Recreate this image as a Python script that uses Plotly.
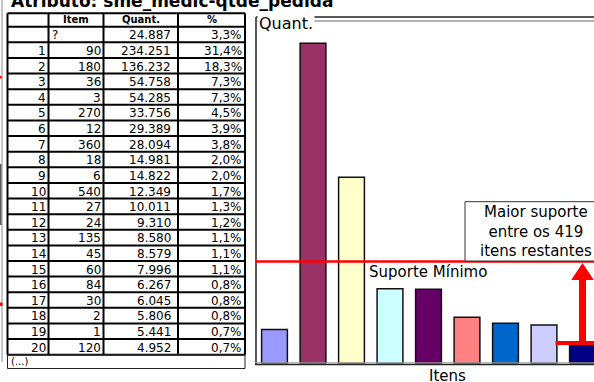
import plotly.graph_objects as go

W, H = 594, 382

# ---- data -------------------------------------------------------------
titulo = "Atributo: sme_medic-qtde_pedida"
cabecalho = ["Item", "Quant.", "%"]
posicoes = ["", "1", "2", "3", "4", "5", "6", "7", "8", "9", "10",
            "11", "12", "13", "14", "15", "16", "17", "18", "19", "20"]
itens = ["?", "90", "180", "36", "3", "270", "12", "360", "18", "6", "540",
         "27", "24", "135", "45", "60", "84", "30", "2", "1", "120"]
quantidades = [24887, 234251, 136232, 54758, 54285, 33756, 29389, 28094,
               14981, 14822, 12349, 10011, 9310, 8580, 8579, 7996, 6267,
               6045, 5806, 5441, 4952]
percentuais = [3.3, 31.4, 18.3, 7.3, 7.3, 4.5, 3.9, 3.8, 2.0, 2.0, 1.7,
               1.3, 1.2, 1.1, 1.1, 1.1, 0.8, 0.8, 0.8, 0.7, 0.7]
cores_barras = ["#9999FF", "#993366", "#FFFFCC", "#CCFFFF", "#660066",
                "#FF8080", "#0066CC", "#CCCCFF", "#000080", "#00CCFF"]
suporte_minimo = 74600          # 10% dos registros
n_barras = 10
texto_caixa = "Maior suporte<br>entre os 419<br>itens restantes"

FONT = "DejaVu Sans"


def px(x):
    return x / W


def py(y):
    return 1 - y / H


def fmt_milhar(v):
    return f"{v:,}".replace(",", ".")


def fmt_pct(p):
    return f"{p:.1f}%".replace(".", ",")


shapes = []
annotations = []


def linha(x0, y0, x1, y1, cor="black", w=2):
    shapes.append(dict(type="line", xref="paper", yref="paper",
                       x0=px(x0), y0=py(y0), x1=px(x1), y1=py(y1),
                       line=dict(color=cor, width=w)))


def texto(t, x, y, size=12, xanchor="center", bold=False, cor="black", **kw):
    annotations.append(dict(text=f"<b>{t}</b>" if bold else t,
                            xref="paper", yref="paper", x=px(x), y=py(y),
                            xanchor=xanchor, yanchor="middle", showarrow=False,
                            font=dict(family=FONT, size=size, color=cor), **kw))


# ---- table ------------------------------------------------------------
cols = [7.5, 48.5, 103.5, 178, 245]
top_h, bot_h = 13.3, 26.7
row_h = 15.62
n_rows = len(itens)
bottom = bot_h + row_h * n_rows

linha(cols[0], top_h, cols[-1], top_h)
linha(cols[0], bot_h, cols[-1], bot_h)
for i in range(1, n_rows + 1):
    linha(cols[0], bot_h + row_h * i, cols[-1], bot_h + row_h * i)
for c in cols:
    linha(c, top_h, c, bottom)

hdr_y = (top_h + bot_h) / 2
for k, h in enumerate(cabecalho):
    texto(h, (cols[k + 1] + cols[k + 2]) / 2, hdr_y, size=10, bold=True)

for i in range(n_rows):
    yc = bot_h + row_h * (i + 0.5) + 0.8
    texto(posicoes[i], cols[1] - 1, yc, xanchor="right")
    if itens[i] == "?":
        texto(itens[i], cols[1] + 1, yc, xanchor="left")
    else:
        texto(itens[i], cols[2] - 1, yc, xanchor="right")
    texto(fmt_milhar(quantidades[i]), cols[3] - 5, yc, xanchor="right")
    texto(fmt_pct(percentuais[i]), cols[4] - 1, yc, xanchor="right")

# continuation row
shapes.append(dict(type="rect", xref="paper", yref="paper",
                   x0=px(cols[0]), x1=px(cols[-1]), y0=py(bottom), y1=py(368.5),
                   line=dict(color="#222222", width=1)))
texto("(...)", 8.5, (bottom + 368.5) / 2, size=10, xanchor="left")

# title (partly above the page top)
texto(titulo, 9, 1.2, size=17, xanchor="left", bold=True)

# page-edge marks on the left
linha(2, 0, 2, 362, cor="#8a8a8a", w=1)
linha(0.7, 164, 0.7, 225, cor="#555555", w=1.5)
linha(0.7, 76, 0.7, 78.5, cor="#ff0000", w=2)
linha(1, 302.5, 1, 306, cor="#ff0000", w=3)

# ---- bar chart --------------------------------------------------------
x_left, x_right = 256, 594
y_base, y_top = 363.5, 21
bar_step = 38.5
first_center = 274.5
units_per_px = 731.4

x_range = [(x_left - first_center) / bar_step, (x_right - first_center) / bar_step]
y_range = [0, (y_base - y_top) * units_per_px]

fig = go.Figure()
fig.add_trace(go.Bar(
    x=list(range(n_barras)), y=quantidades[:n_barras], width=0.67,
    marker=dict(color=cores_barras[:n_barras], line=dict(color="#111111", width=1.5)),
    hoverinfo="skip",
))

# chart frame
linha(x_left, 17, 600, 17, cor="#222222", w=1.5)
linha(x_left, 17, x_left, 364.5, cor="#222222", w=1.5)
linha(x_left, y_top, 600, y_top, cor="#666666", w=1)
linha(x_left - 1, 362.8, 600, 362.8, cor="#9a9a9a", w=1)
linha(x_left - 1, 364.5, 600, 364.5, cor="#222222", w=1.5)

texto("Quant.", 256.5, 23.5, size=16, xanchor="left", bgcolor="white")
texto("Itens", 447, 376, size=15)

# minimum support line
shapes.append(dict(type="line", xref="paper", yref="y",
                   x0=px(x_left), x1=1, y0=suporte_minimo, y1=suporte_minimo,
                   line=dict(color="#FF0000", width=2.5)))
texto("Suporte Mínimo", 367, 272, size=15, xanchor="left")

# call-out box
shapes.append(dict(type="rect", xref="paper", yref="paper",
                   x0=px(465), x1=px(606), y0=py(261), y1=py(201.7),
                   fillcolor="white", line=dict(color="#333333", width=1)))
texto(texto_caixa, 535.5, 231, size=15)

# arrow from the highest remaining bar up to the minimum support
alvo = n_barras - 2
nivel = quantidades[alvo]
head_half = 11.3 / bar_step
head_len = 17 * units_per_px
tip = suporte_minimo - 1.5 * units_per_px
shapes.append(dict(type="line", xref="x", yref="y",
                   x0=alvo - 0.7, x1=alvo + 0.6, y0=nivel, y1=nivel,
                   line=dict(color="#FF0000", width=4)))
shapes.append(dict(type="line", xref="x", yref="y",
                   x0=alvo, x1=alvo, y0=nivel, y1=tip - head_len + 200,
                   line=dict(color="#FF0000", width=7)))
shapes.append(dict(type="path", xref="x", yref="y",
                   path=f"M {alvo - head_half} {tip - head_len} L {alvo + head_half} {tip - head_len} "
                        f"L {alvo} {tip} Z",
                   fillcolor="#FF0000", line=dict(color="#FF0000", width=0)))

fig.update_layout(
    width=W, height=H,
    margin=dict(l=0, r=0, t=0, b=0),
    paper_bgcolor="white", plot_bgcolor="white",
    showlegend=False,
    xaxis=dict(domain=[px(x_left), 1], range=x_range, visible=False, fixedrange=True),
    yaxis=dict(domain=[py(y_base), py(y_top)], range=y_range, visible=False, fixedrange=True),
    shapes=shapes,
    annotations=annotations,
)

fig.write_html("out.html")
